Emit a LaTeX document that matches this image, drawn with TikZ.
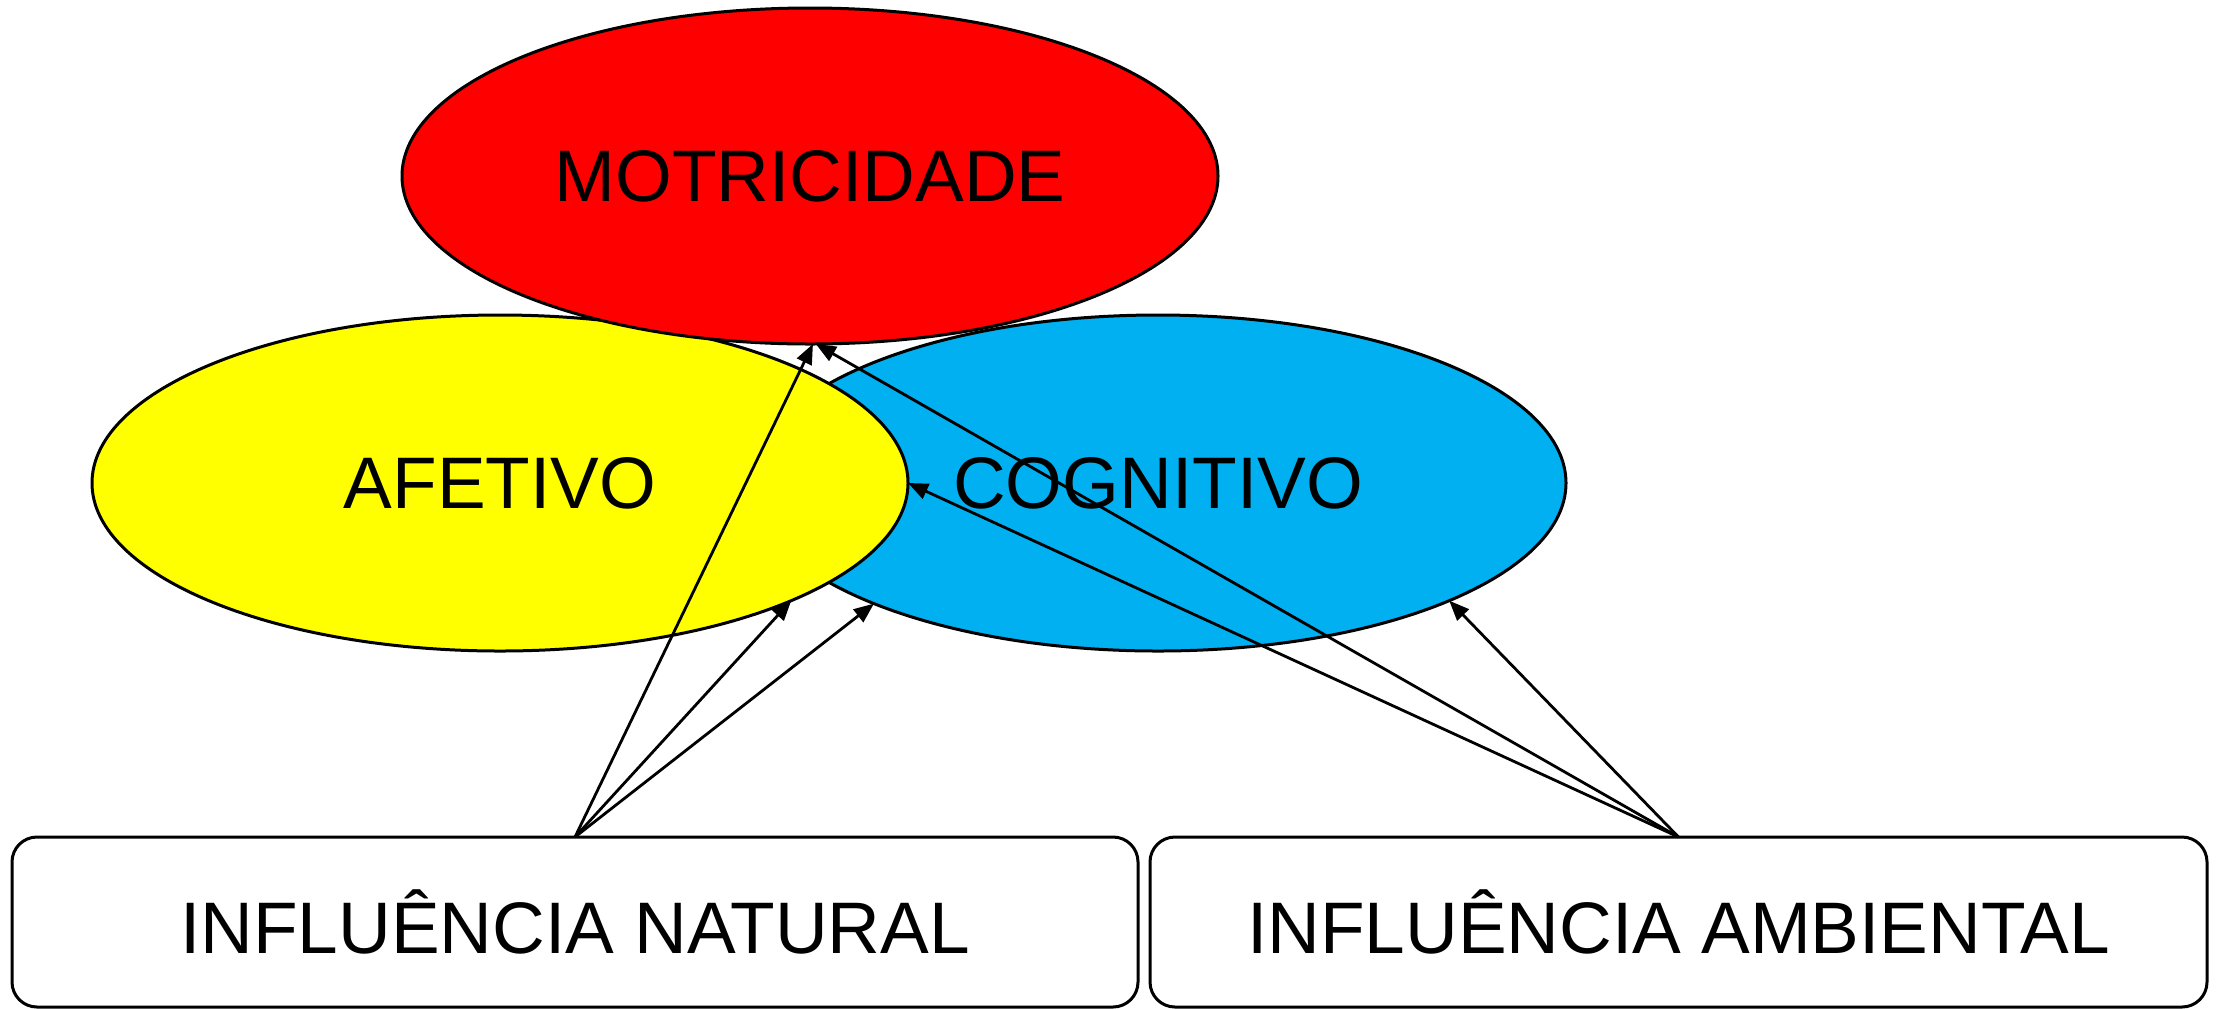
\documentclass[tikz,border=0pt]{standalone}
\usepackage{fontspec}
\setmainfont{Liberation Sans}
\usetikzlibrary{shapes.geometric,arrows.meta}
\definecolor{cogblue}{HTML}{00B0F0}
\definecolor{afeyellow}{HTML}{FFFF00}
\definecolor{motred}{HTML}{FF0000}
\begin{document}
\begin{tikzpicture}[x=0.5pt,y=-0.5pt,
  bubble/.style={ellipse,draw=black,line width=1.5pt,minimum width=408pt,minimum height=168pt,inner sep=0pt,outer sep=0pt,font=\fontsize{36.5}{40}\selectfont},
  infobox/.style={rectangle,rounded corners=12.5pt,draw=black,line width=1.5pt,fill=white,minimum width=563pt,minimum height=85pt,inner sep=0pt,outer sep=0pt,font=\fontsize{36.5}{40}\selectfont},
  link/.style={line width=1.4pt,-{Triangle[length=10pt,width=8pt]}}]
\useasboundingbox (0,0) rectangle (2219,1008);
\node[bubble,fill=cogblue] (cog) at (1158,483) {COGNITIVO};
\node[bubble,fill=afeyellow] (afe) at (500,483) {AFETIVO};
\node[bubble,fill=motred] (mot) at (810,176) {MOTRICIDADE};
\node[infobox] (nat) at (575,922) {INFLUÊNCIA NATURAL};
\node[infobox,minimum width=528.5pt] (amb) at (1678.5,922) {INFLUÊNCIA AMBIENTAL};
\draw[link] (nat.north) -- (mot.-89.5);
\draw[link] (nat.north) -- (afe.-22.4);
\draw[link] (nat.north) -- (cog.-157.7);
\draw[link] (amb.north) -- (cog.-22.6);
\draw[link] (amb.north) -- (mot.-88);
\draw[link] (amb.north) -- (afe.east);
\end{tikzpicture}
\end{document}
